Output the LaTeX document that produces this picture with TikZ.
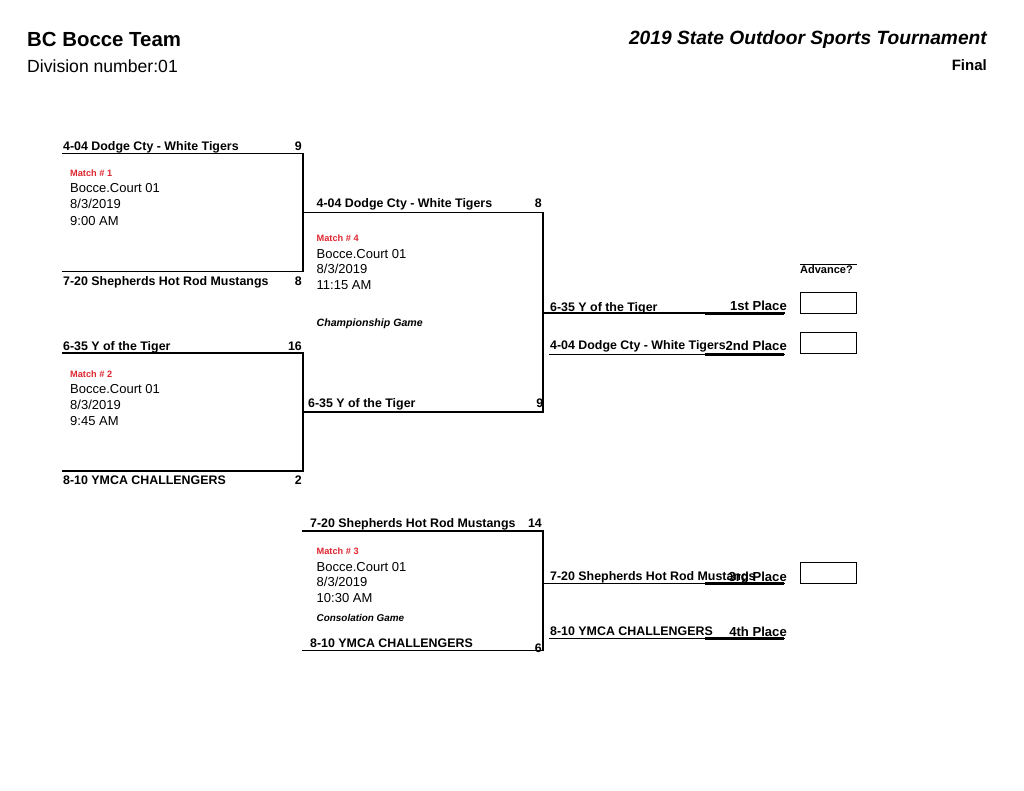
\documentclass[tikz,border=0pt]{standalone}
\usepackage{fontspec}
\setmainfont{Liberation Sans}
\definecolor{matchred}{RGB}{222,38,48}
\newcommand{\fsz}[1]{\fontsize{#1}{#1}\selectfont}
\tikzset{
  team/.style={anchor=base west, inner sep=0pt, font=\bfseries\fsz{12.4}},
  score/.style={anchor=base east, inner sep=0pt, font=\bfseries\fsz{12.4}},
  info/.style={anchor=base west, inner sep=0pt, font=\fsz{13}},
  mlabel/.style={anchor=base west, inner sep=0pt, font=\bfseries\fsz{9.2}, text=matchred},
  gamelabel/.style={anchor=base west, inner sep=0pt},
  place/.style={anchor=base east, inner sep=0pt, font=\bfseries\fsz{13.1}},
  bline/.style={line width=1.8pt, line cap=rect},
  pline/.style={line width=2.6pt},
  advbox/.style={draw, line width=1.1pt},
}
\begin{document}
\begin{tikzpicture}[x=1pt,y=-1pt]
\useasboundingbox (0,0) rectangle (1024,791);
\fill[white] (0,0) rectangle (1024,791);

% headers
\node[anchor=base west, inner sep=0pt, font=\bfseries\fsz{20.4}] (title) at (27,47) {BC Bocce Team};
\node[anchor=base west, inner sep=0pt, font=\fsz{17.6}] (div) at (27,73) {Division number:01};
\node[anchor=base east, inner sep=0pt, font=\bfseries\itshape\fsz{19.2}] (tourn) at (987,45) {2019 State Outdoor Sports Tournament};
\node[anchor=base east, inner sep=0pt, font=\bfseries\fsz{15}] (final) at (987,71) {Final};

% coordinates of the bracket
\coordinate (m1a) at (63,153.5);  \coordinate (m1b) at (303,153.5);
\coordinate (m1c) at (303,271.5); \coordinate (m1d) at (63,271.5);
\coordinate (m2a) at (63,353);    \coordinate (m2b) at (303,353);
\coordinate (m2c) at (303,471);   \coordinate (m2d) at (63,471);
\coordinate (m4a) at (303,212.5); \coordinate (m4b) at (543,212.5);
\coordinate (m4c) at (543,411.7); \coordinate (m4d) at (303,411.7);
\coordinate (m3a) at (303,531);   \coordinate (m3b) at (543,531);
\coordinate (m3c) at (543,650.5); \coordinate (m3d) at (303,650.5);
\coordinate (r1a) at (543,313.3); \coordinate (r1b) at (784,313.3);
\coordinate (r2a) at (550,354.5); \coordinate (r2b) at (784,354.5);
\coordinate (r3a) at (543,583.5); \coordinate (r3b) at (784,583.5);
\coordinate (r4a) at (550,638.5); \coordinate (r4b) at (784,638.5);
\coordinate (u1) at (705,313.3);
\coordinate (u2) at (705,354.5);
\coordinate (u3) at (705,583.5);
\coordinate (u4) at (705,638.5);

\draw[bline] (m1a) -- (m1b) -- (m1c) -- (m1d);
\draw[bline] (m2a) -- (m2b) -- (m2c) -- (m2d);
\draw[bline] (m4a) -- (m4b) -- (m4c) -- (m4d);
\draw[bline] (m3a) -- (m3b) -- (m3c) -- (m3d);
\draw[bline] (r1a) -- (r1b);
\draw[bline] (r2a) -- (r2b);
\draw[bline] (r3a) -- (r3b);
\draw[bline] (r4a) -- (r4b);
\draw[pline] (u1) -- (r1b);
\draw[pline] (u2) -- (r2b);
\draw[pline] (u3) -- (r3b);
\draw[pline] (u4) -- (r4b);

% round 1, match 1
\node[team] (t1) at (63,151) {4-04 Dodge Cty - White Tigers};
\node[score] (s1) at (302,151) {9};
\node[team] (t2) at (63,286) {7-20 Shepherds Hot Rod Mustangs};
\node[score] (s2) at (302,286) {8};
\node[mlabel] (ml1) at (70,177) {Match \# 1};
\node[info] (c1) at (70,193) {Bocce.Court 01};
\node[info] (d1) at (70,209) {8/3/2019};
\node[info] (h1) at (70,225.5) {9:00 AM};

% round 1, match 2
\node[team] (t3) at (63,350) {6-35 Y of the Tiger};
\node[score] (s3) at (302,350) {16};
\node[team] (t4) at (63,484) {8-10 YMCA CHALLENGERS};
\node[score] (s4) at (302,484) {2};
\node[mlabel] (ml2) at (70,377) {Match \# 2};
\node[info] (c2) at (70,393) {Bocce.Court 01};
\node[info] (d2) at (70,409) {8/3/2019};
\node[info] (h2) at (70,425) {9:45 AM};

% round 2, match 4
\node[team] (t5) at (316.5,208) {4-04 Dodge Cty - White Tigers};
\node[score] (s5) at (542,208) {8};
\node[mlabel] (ml4) at (316.5,242) {Match \# 4};
\node[info] (c4) at (316.5,259) {Bocce.Court 01};
\node[info] (d4) at (316.5,274) {8/3/2019};
\node[info] (h4) at (316.5,290) {11:15 AM};
\node[gamelabel, font=\bfseries\itshape\fsz{10.6}] (g4) at (316.5,326) {Championship Game};
\node[team] (t6) at (308,407.5) {6-35 Y of the Tiger};
\node[score] (s6) at (543.5,407.5) {9};

% round 2, match 3
\node[team] (t7) at (310,527.5) {7-20 Shepherds Hot Rod Mustangs};
\node[score] (s7) at (542,527.5) {14};
\node[mlabel] (ml3) at (316.5,554) {Match \# 3};
\node[info] (c3) at (316.5,571) {Bocce.Court 01};
\node[info] (d3) at (316.5,586) {8/3/2019};
\node[info] (h3) at (316.5,602) {10:30 AM};
\node[gamelabel, font=\bfseries\itshape\fsz{9.9}] (g3) at (316.5,621) {Consolation Game};
\node[team] (t8) at (310,647) {8-10 YMCA CHALLENGERS};
\node[score] (s8) at (542,652) {6};

% places
\node[team] (t9) at (550,311) {6-35 Y of the Tiger};
\node[place] (p1) at (787,310.5) {1st Place};
\node[team] (t10) at (550,349.5) {4-04 Dodge Cty - White Tigers};
\node[place] (p2) at (787,350.5) {2nd Place};
\node[team] (t11) at (550,580.5) {7-20 Shepherds Hot Rod Mustangs};
\node[place] (p3) at (787,581) {3rd Place};
\node[team] (t12) at (550,635) {8-10 YMCA CHALLENGERS};
\node[place] (p4) at (787,636) {4th Place};

% advance boxes
\coordinate (adl) at (800,264.5); \coordinate (adr) at (857,264.5);
\draw[line width=1pt] (adl) -- (adr);
\node[anchor=base west, inner sep=0pt, font=\bfseries\fsz{11}] (adv) at (800,273.5) {Advance?};
\node[advbox, minimum width=56pt, minimum height=21pt, anchor=north west] (b1) at (799.5,292) {};
\node[advbox, minimum width=56pt, minimum height=21pt, anchor=north west] (b2) at (799.5,332) {};
\node[advbox, minimum width=56pt, minimum height=21pt, anchor=north west] (b3) at (799.5,562) {};
\end{tikzpicture}
\end{document}
